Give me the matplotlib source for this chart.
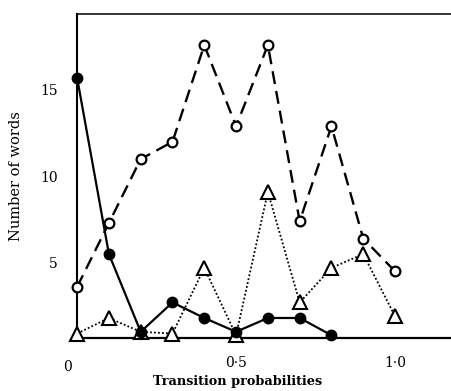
import matplotlib
matplotlib.use("Agg")
import matplotlib.pyplot as plt
import matplotlib.transforms as mtransforms

## DATA
x_filled = [0.0, 0.1, 0.2, 0.3, 0.4, 0.5, 0.6, 0.7, 0.8]
y_filled = [15.7, 5.5, 1.0, 2.7, 1.8, 1.0, 1.8, 1.8, 0.8]

x_open = [0.0, 0.1, 0.2, 0.3, 0.4, 0.5, 0.6, 0.7, 0.8, 0.9, 1.0]
y_open = [3.6, 7.3, 11.0, 12.0, 17.6, 12.9, 17.6, 7.4, 12.9, 6.4, 4.5]

x_tri = [0.0, 0.1, 0.2, 0.3, 0.4, 0.5, 0.6, 0.7, 0.8, 0.9, 1.0]
y_tri = [0.9, 1.8, 1.0, 0.9, 4.7, 0.8, 9.1, 2.7, 4.7, 5.5, 1.9]

x_ticks = [0.0, 0.5, 1.0]
x_ticklabels = ["0", "0\u00b75", "1\u00b70"]
y_ticks = [5, 10, 15]
y_ticklabels = ["5", "10", "15"]

## FIGURE
plt.rcParams['font.family'] = ['DejaVu Serif']
fig = plt.figure(figsize=(4.51, 3.91), dpi=100)
ax = fig.add_axes([0.171, 0.1355, 0.829, 0.8287])

ax.plot(x_open, y_open, color='black', lw=1.7, ls=(0, (5.5, 3)),
        marker='o', ms=7, mfc='white', mec='black', mew=1.6, clip_on=False, zorder=3)
ax.plot(x_tri, y_tri, color='black', lw=1.3, ls=(0, (1, 1.2)),
        marker='^', ms=10, mfc='white', mec='black', mew=1.5, clip_on=False, zorder=4)
ax.plot(x_filled, y_filled, color='black', lw=1.6, ls='-',
        marker='o', ms=7.5, mfc='black', mec='black', clip_on=False, zorder=5)

ax.set_xlim(0, 1.176)
ax.set_ylim(0.64, 19.4)

ax.spines['right'].set_visible(False)
ax.spines['left'].set_linewidth(1.5)
ax.spines['bottom'].set_linewidth(1.6)
ax.spines['top'].set_linewidth(1.1)

ax.set_xticks(x_ticks)
ax.set_xticklabels(x_ticklabels, fontsize=10)
ax.set_yticks(y_ticks)
ax.set_yticklabels(y_ticklabels, fontsize=10)
ax.tick_params(axis='both', length=0)
ax.tick_params(axis='x', pad=13)
ax.tick_params(axis='y', pad=14)

# the "0" label sits left and a little lower in the original
lab0 = ax.get_xticklabels()[0]
lab0.set_transform(lab0.get_transform() + mtransforms.ScaledTranslation(-10 / 100, -4 / 100, fig.dpi_scale_trans))

ax.set_xlabel('Transition probabilities', fontsize=9.3, fontweight='bold')
ax.xaxis.set_label_coords(0.43, -0.115)
ax.set_ylabel('Number of words', fontsize=10.5, labelpad=12)

fig.savefig('out.png', dpi=100)
